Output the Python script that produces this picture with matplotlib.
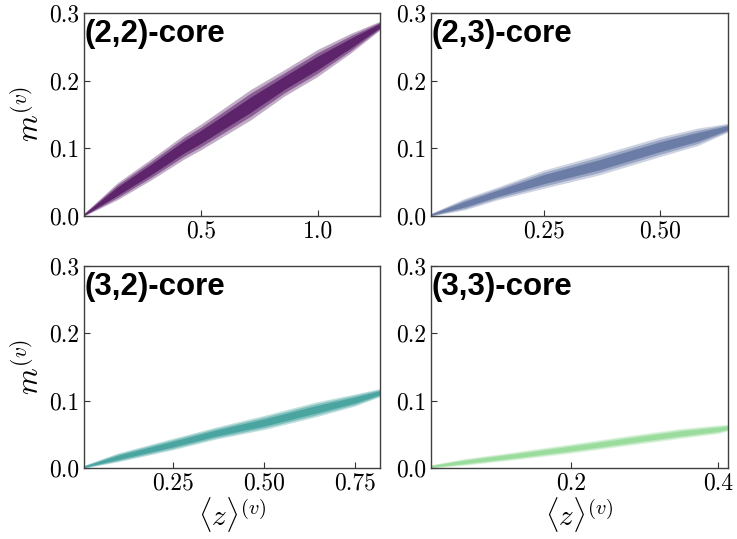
import numpy as np
import matplotlib
matplotlib.use("Agg")
import matplotlib.pyplot as plt

plt.rcParams['font.family'] = 'serif'
plt.rcParams['font.serif'] = ['cmr10']
plt.rcParams['mathtext.fontset'] = 'cm'
plt.rcParams['axes.formatter.use_mathtext'] = True

# band: x, lower edge, upper edge
titles = ["(2,2)-core", "(2,3)-core", "(3,2)-core", "(3,3)-core"]

x22 = [0.0, 0.142, 0.285, 0.427, 0.5, 0.712, 0.855, 0.997, 1.14, 1.265]
lo22 = [0.0, 0.024, 0.053, 0.084, 0.098, 0.142, 0.177, 0.206, 0.241, 0.275]
hi22 = [0.004, 0.049, 0.084, 0.120, 0.136, 0.187, 0.216, 0.246, 0.270, 0.288]

x23 = [0.008, 0.08, 0.151, 0.25, 0.365, 0.5, 0.58, 0.645]
lo23 = [0.0, 0.009, 0.024, 0.041, 0.060, 0.088, 0.104, 0.124]
hi23 = [0.004, 0.026, 0.043, 0.068, 0.090, 0.117, 0.130, 0.137]

x32 = [0.007, 0.098, 0.25, 0.37, 0.5, 0.643, 0.75, 0.819]
lo32 = [0.0, 0.009, 0.027, 0.043, 0.057, 0.076, 0.092, 0.106]
hi32 = [0.004, 0.022, 0.044, 0.061, 0.078, 0.098, 0.110, 0.118]

x33 = [0.009, 0.054, 0.122, 0.2, 0.282, 0.35, 0.4, 0.414]
lo33 = [0.0, 0.004, 0.012, 0.022, 0.034, 0.044, 0.051, 0.055]
hi33 = [0.005, 0.014, 0.024, 0.036, 0.049, 0.059, 0.064, 0.065]

xlims = [(0.0, 1.265), (0.008, 0.645), (0.007, 0.819), (0.009, 0.414)]
xticks = [[0.5, 1.0], [0.25, 0.50], [0.25, 0.50, 0.75], [0.2, 0.4]]
xticklabels = [["0.5", "1.0"], ["0.25", "0.50"], ["0.25", "0.50", "0.75"], ["0.2", "0.4"]]

bands = [(x22, lo22, hi22), (x23, lo23, hi23), (x32, lo32, hi32), (x33, lo33, hi33)]
colors = ["#440154", "#3b528b", "#21918c", "#5ec962"]
density = [1.8, 1.4, 1.6, 1.05]

W, H = 737, 539
boxes = [(84, 13, 380, 216), (431, 13, 728, 216), (84, 266, 380, 468), (431, 266, 728, 468)]

fig = plt.figure(figsize=(W / 100, H / 100), dpi=100)

for i in range(4):
    l, t, r, b = boxes[i]
    ax = fig.add_axes([l / W, 1 - b / H, (r - l) / W, (b - t) / H])
    x, lo, hi = bands[i]
    x = np.array(x); lo = np.array(lo); hi = np.array(hi)
    w = hi - lo
    # soft edges: stacked layers, denser toward the middle
    for inset, a in [(0.0, 0.18), (0.12, 0.25), (0.25, 0.35)]:
        ax.fill_between(x, lo + inset * w, hi - inset * w, color=colors[i],
                        alpha=min(a * density[i], 1.0), lw=0)

    ax.set_xlim(xlims[i])
    ax.set_ylim(0, 0.3)
    ax.set_xticks(xticks[i])
    ax.set_xticklabels(xticklabels[i])
    ax.set_yticks([0.0, 0.1, 0.2, 0.3])
    ax.set_yticklabels(["0.0", "0.1", "0.2", "0.3"])
    ax.tick_params(direction='in', length=4, labelsize=17, color='0.2')
    for s in ax.spines.values():
        s.set_color('0.25')
        s.set_linewidth(1.0)

    ax.text(0.003, 0.968, titles[i], transform=ax.transAxes, ha='left', va='top',
            fontsize=22.5, fontweight='bold', family='Liberation Sans')

    if i % 2 == 0:
        ax.set_ylabel(r'$m^{(v)}$', fontsize=22, labelpad=3)
    if i >= 2:
        ax.set_xlabel(r'$\langle z\rangle^{(v)}$', fontsize=21, labelpad=0)

fig.savefig("out.png", dpi=100)
